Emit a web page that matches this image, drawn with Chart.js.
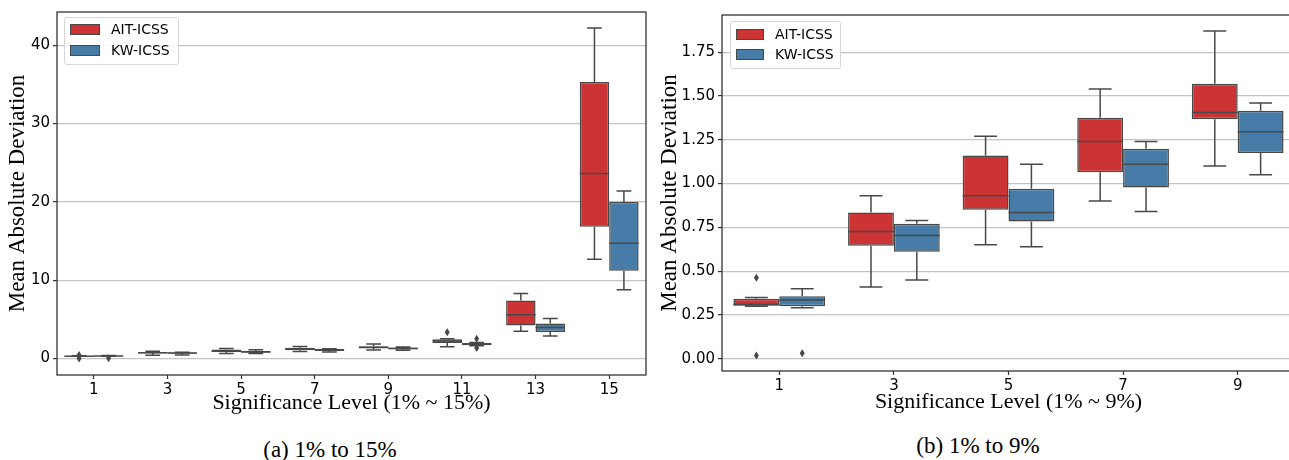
<!DOCTYPE html>
<html>
<head>
<meta charset="utf-8">
<script src="https://cdn.jsdelivr.net/npm/chart.js@4.4.0/dist/chart.umd.min.js"></script>
<style>
  html, body { margin: 0; padding: 0; background: #fff; overflow: hidden; }
  body { width: 1289px; height: 460px; position: relative; }
  .panel { position: absolute; top: 0; height: 420px; }
  .legend {
    position: absolute; background: rgba(255,255,255,0.85);
    border: 1px solid #d6d6d6; border-radius: 3px;
    font-family: "DejaVu Sans", sans-serif; font-size: 14px; color: #000;
  }
  .legend .patch { position: absolute; border: 1px solid #484848; box-sizing: border-box; }
  .legend .lbl { position: absolute; line-height: 14px; white-space: nowrap; }
  .caption {
    position: absolute; font-family: "Liberation Serif", serif; font-size: 23px;
    transform: translate(-50%, -50%); white-space: nowrap; color: #000;
  }
</style>
</head>
<body>
<div class="panel" style="left:0;width:648px"><canvas id="chartA"></canvas></div>
<div class="panel" style="left:648px;width:660px"><canvas id="chartB"></canvas></div>

<div class="legend" style="left:64px;top:17px;width:113px;height:46px">
  <div class="patch" style="left:5px;top:6px;width:30px;height:11px;background:#cb3335"></div>
  <div class="lbl" style="left:46px;top:4px">AIT-ICSS</div>
  <div class="patch" style="left:5px;top:27px;width:30px;height:11px;background:#477ca8"></div>
  <div class="lbl" style="left:46px;top:25px">KW-ICSS</div>
</div>
<div class="legend" style="left:730px;top:21px;width:109px;height:46px">
  <div class="patch" style="left:5px;top:7px;width:28px;height:11px;background:#cb3335"></div>
  <div class="lbl" style="left:44px;top:5px">AIT-ICSS</div>
  <div class="patch" style="left:5px;top:27px;width:28px;height:11px;background:#477ca8"></div>
  <div class="lbl" style="left:44px;top:25px">KW-ICSS</div>
</div>

<div class="caption" style="left:330px;top:450px">(a) 1% to 15%</div>
<div class="caption" style="left:978px;top:446px">(b) 1% to 9%</div>

<script>
// significance levels (%)
const levels = ['1', '3', '5', '7', '9', '11', '13', '15'];

// AIT-ICSS box stats
const aitLow = [0.30, 0.41, 0.65, 0.90, 1.10, 1.52, 3.50, 12.68];
const aitQ1  = [0.302, 0.645, 0.85, 1.065, 1.367, 1.99, 4.22, 16.83];
const aitMed = [0.31, 0.726, 0.93, 1.24, 1.405, 2.25, 5.58, 23.64];
const aitQ3  = [0.342, 0.835, 1.16, 1.376, 1.57, 2.46, 7.42, 35.3];
const aitHigh = [0.35, 0.93, 1.27, 1.54, 1.87, 2.54, 8.31, 42.2];
const aitOut = [[0.462, 0.019], [], [], [], [], [3.35], [], []];

// KW-ICSS box stats
const kwLow = [0.291, 0.45, 0.639, 0.84, 1.05, 1.62, 2.88, 8.8];
const kwQ1  = [0.30, 0.61, 0.783, 0.977, 1.175, 1.70, 3.39, 11.2];
const kwMed = [0.335, 0.703, 0.835, 1.11, 1.295, 1.87, 3.95, 14.71];
const kwQ3  = [0.356, 0.77, 0.97, 1.198, 1.416, 1.99, 4.49, 20.0];
const kwHigh = [0.40, 0.789, 1.11, 1.24, 1.46, 2.05, 5.10, 21.4];
const kwOut = [[0.031], [], [], [], [], [2.54, 1.36], [], []];

const ticksA = [0, 10, 20, 30, 40];
const ticksB = [0, 0.25, 0.5, 0.75, 1.0, 1.25, 1.5, 1.75];

const RED = '#cb3335', BLUE = '#477ca8', GRAY = '#484848';

// whiskers, caps, medians and outliers drawn through the y scale
const boxPlugin = {
  id: 'boxes',
  afterDatasetsDraw(chart) {
    const ctx = chart.ctx, y = chart.scales.y;
    ctx.save();
    ctx.strokeStyle = GRAY;
    ctx.fillStyle = GRAY;
    ctx.lineWidth = 1.5;
    chart.data.datasets.forEach((ds, d) => {
      chart.getDatasetMeta(d).data.forEach((bar, i) => {
        const x = bar.x, w = bar.width;
        const pLo = y.getPixelForValue(ds.low[i]);
        const pHi = y.getPixelForValue(ds.high[i]);
        const pQ1 = y.getPixelForValue(ds.data[i][0]);
        const pQ3 = y.getPixelForValue(ds.data[i][1]);
        const pMed = y.getPixelForValue(ds.med[i]);
        ctx.beginPath();
        ctx.moveTo(x, pQ3); ctx.lineTo(x, pHi);
        ctx.moveTo(x, pQ1); ctx.lineTo(x, pLo);
        ctx.moveTo(x - w / 4, pHi); ctx.lineTo(x + w / 4, pHi);
        ctx.moveTo(x - w / 4, pLo); ctx.lineTo(x + w / 4, pLo);
        ctx.moveTo(x - w / 2, pMed); ctx.lineTo(x + w / 2, pMed);
        ctx.stroke();
        ds.out[i].forEach(v => {
          const py = y.getPixelForValue(v);
          ctx.beginPath();
          ctx.moveTo(x, py - 4); ctx.lineTo(x + 2.5, py);
          ctx.lineTo(x, py + 4); ctx.lineTo(x - 2.5, py);
          ctx.closePath();
          ctx.fill();
        });
      });
    });
    // full frame
    const a = chart.chartArea;
    ctx.strokeStyle = '#333';
    ctx.lineWidth = 1.3;
    ctx.strokeRect(a.left, a.top, a.right - a.left, a.bottom - a.top);
    ctx.restore();
  }
};

function makeChart(id, n, yMin, yMax, ticks, fmt, opts) {
  const ds = (label, color, lo, q1, med, q3, hi, out) => ({
    label: label,
    data: q1.slice(0, n).map((v, i) => [v, q3[i]]),
    low: lo.slice(0, n), med: med.slice(0, n), high: hi.slice(0, n), out: out.slice(0, n),
    backgroundColor: color,
    borderColor: GRAY,
    borderWidth: 1.5,
    borderSkipped: false,
    categoryPercentage: 0.8,
    barPercentage: 1.0
  });
  return new Chart(document.getElementById(id), {
    type: 'bar',
    data: {
      labels: levels.slice(0, n),
      datasets: [
        ds('AIT-ICSS', RED, aitLow, aitQ1, aitMed, aitQ3, aitHigh, aitOut),
        ds('KW-ICSS', BLUE, kwLow, kwQ1, kwMed, kwQ3, kwHigh, kwOut)
      ]
    },
    options: {
      responsive: true,
      maintainAspectRatio: false,
      animation: false,
      layout: { padding: { top: opts.top, right: opts.right, left: 0, bottom: 0 } },
      plugins: { legend: { display: false }, tooltip: { enabled: false } },
      scales: {
        x: {
          offset: true,
          grid: { display: true, offset: false, drawOnChartArea: false, tickLength: 4, tickColor: '#333', tickWidth: 1.2 },
          border: { display: false },
          ticks: { color: '#000', padding: 2, font: { family: 'DejaVu Sans', size: 15 } },
          title: {
            display: true, text: opts.xTitle, color: '#000',
            font: { family: 'Liberation Serif', size: 22, lineHeight: 1.2 },
            padding: { top: 0, bottom: opts.xTitlePad }
          },
          afterFit(s) { s.height = opts.xHeight; }
        },
        y: {
          min: yMin, max: yMax,
          afterBuildTicks(s) { s.ticks = ticks.map(v => ({ value: v })); },
          grid: { color: '#c4c4c4', lineWidth: 1.2, tickLength: 4, tickColor: '#333', tickWidth: 1.2 },
          border: { display: false },
          ticks: { color: '#000', padding: 3, font: { family: 'DejaVu Sans', size: 15 }, callback: fmt },
          title: {
            display: true, text: 'Mean Absolute Deviation', color: '#000',
            font: { family: 'Liberation Serif', size: 23, lineHeight: 1.2 },
            padding: { top: opts.yTitlePad, bottom: 0 }
          },
          afterFit(s) { s.width = opts.yWidth; }
        }
      }
    },
    plugins: [boxPlugin]
  });
}

window.onload = function () {
  makeChart('chartA', 8, -2.1, 44.25, ticksA, v => String(v), {
    top: 9, right: 2, xHeight: 45, yWidth: 57, xTitlePad: 4, yTitlePad: 4,
    xTitle: 'Significance Level (1% ~ 15%)'
  });
  makeChart('chartB', 5, -0.07, 1.962, ticksB, v => v.toFixed(2), {
    top: 15, right: 13, xHeight: 49, yWidth: 74, xTitlePad: 5, yTitlePad: 8,
    xTitle: 'Significance Level (1% ~ 9%)'
  });
};
</script>
</body>
</html>
